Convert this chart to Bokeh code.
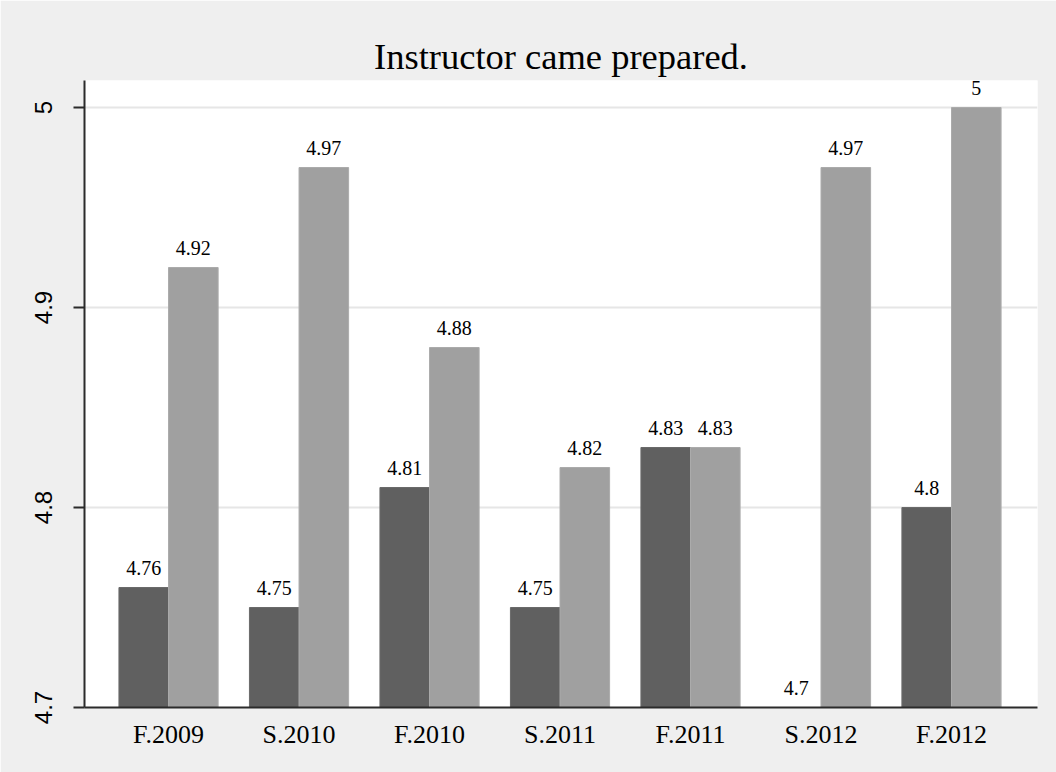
import math
from bokeh.plotting import figure
from bokeh.models import Range1d, ColumnDataSource, FixedTicker
from bokeh.core.properties import value
from bokeh.embed import file_html
from bokeh.resources import INLINE

# ---- data ----
terms = ["F.2009", "S.2010", "F.2010", "S.2011", "F.2011", "S.2012", "F.2012"]
series_dark = [4.76, 4.75, 4.81, 4.75, 4.83, 4.70, 4.80]
series_light = [4.92, 4.97, 4.88, 4.82, 4.83, 4.97, 5.00]
y_ticks = [4.7, 4.8, 4.9, 5.0]
y_tick_labels = ["4.7", "4.8", "4.9", "5"]
title_text = "Instructor came prepared."

BASE = 4.7
OFF = 0.19
W = 0.38

def fmt(v):
    return f"{v:g}"

idx = list(range(len(terms)))
src_dark = ColumnDataSource(dict(x=[i - OFF for i in idx], top=series_dark,
                                 label=[fmt(v) for v in series_dark]))
src_light = ColumnDataSource(dict(x=[i + OFF for i in idx], top=series_light,
                                  label=[fmt(v) for v in series_light]))

p = figure(width=1056, height=772,
           x_range=Range1d(-0.644, 6.659), y_range=Range1d(4.7, 5.0135),
           output_backend="svg", toolbar_location=None,
           min_border_left=84, min_border_right=19,
           min_border_top=80, min_border_bottom=65)

p.background_fill_color = "white"
p.border_fill_color = "#efefef"
p.outline_line_color = None

p.title.text = title_text
p.title.text_font = "Liberation Serif"
p.title.text_font_size = "36.5px"
p.title.text_font_style = "normal"
p.title.text_color = "black"
p.title.align = "center"
p.title.standoff = 7

p.vbar(x="x", top="top", bottom=BASE, width=W, source=src_dark,
       fill_color="#606060", line_color="#6a6a6a", line_width=1)
p.vbar(x="x", top="top", bottom=BASE, width=W, source=src_light,
       fill_color="#a0a0a0", line_color="#ababab", line_width=1)

for s in (src_dark, src_light):
    p.text(x="x", y="top", text="label", source=s,
           text_font=value("Liberation Serif"), text_font_size="20px",
           text_color="black", text_align="center",
           text_baseline="bottom", y_offset=-13)

# x axis
p.xaxis.ticker = FixedTicker(ticks=idx)
p.xaxis.major_label_overrides = {i: t for i, t in zip(idx, terms)}
p.xaxis.major_tick_out = 0
p.xaxis.major_tick_in = 0
p.xaxis.minor_tick_out = 0
p.xaxis.minor_tick_in = 0
p.xaxis.major_label_text_font = "Liberation Serif"
p.xaxis.major_label_text_font_size = "26px"
p.xaxis.major_label_text_color = "black"
p.xaxis.major_label_standoff = 12
p.xaxis.axis_line_color = "#2b2b2b"
p.xaxis.axis_line_width = 2

# y axis
p.yaxis.ticker = FixedTicker(ticks=y_ticks)
p.yaxis.major_label_overrides = {t: l for t, l in zip(y_ticks, y_tick_labels)}
p.yaxis.major_label_orientation = "vertical"
p.yaxis.major_tick_out = 11
p.yaxis.major_tick_in = 0
p.yaxis.minor_tick_out = 0
p.yaxis.minor_tick_in = 0
p.yaxis.major_tick_line_color = "#2b2b2b"
p.yaxis.major_tick_line_width = 2
p.yaxis.major_label_text_font = "Liberation Sans"
p.yaxis.major_label_text_font_size = "24px"
p.yaxis.major_label_text_color = "black"
p.yaxis.major_label_standoff = 22
p.yaxis.axis_line_color = "#2b2b2b"
p.yaxis.axis_line_width = 2

p.xgrid.grid_line_color = None
p.ygrid.ticker = FixedTicker(ticks=y_ticks)
p.ygrid.grid_line_color = "#e6e6e6"
p.ygrid.grid_line_width = 2

open("out.html", "w").write(file_html(p, INLINE))
